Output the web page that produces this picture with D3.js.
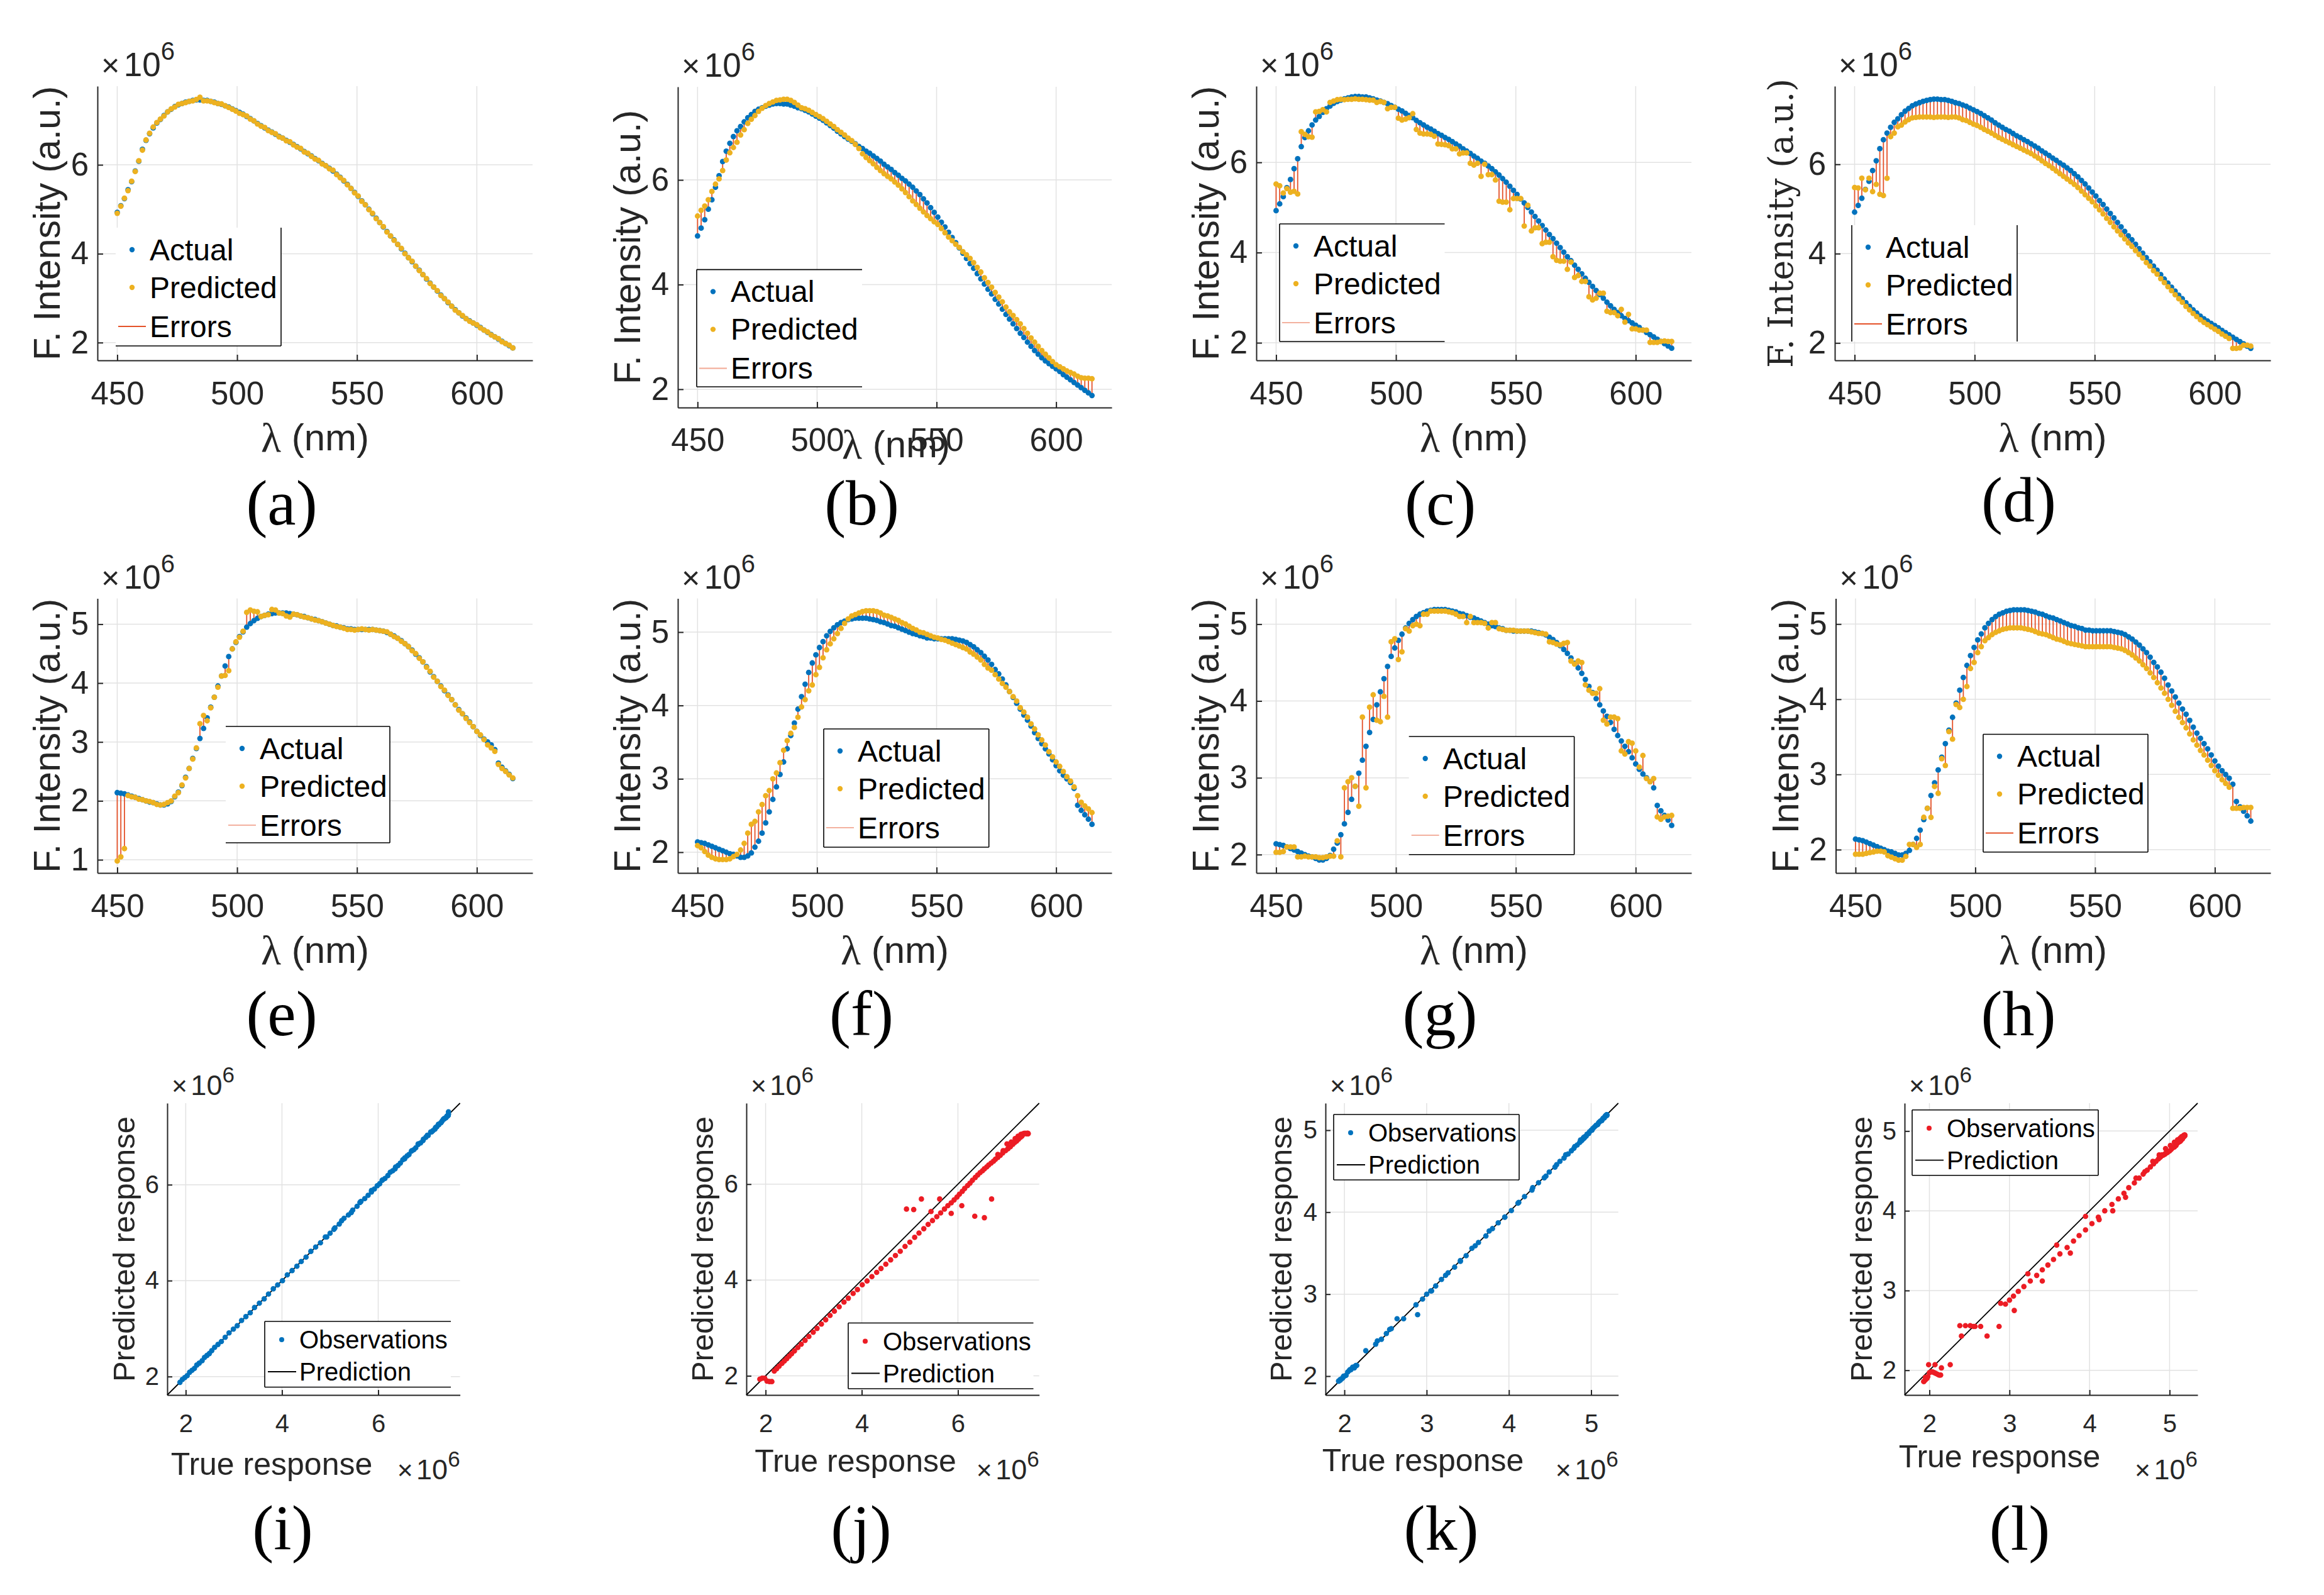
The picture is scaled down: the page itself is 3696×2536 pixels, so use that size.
<!DOCTYPE html>
<html><head><meta charset="utf-8">
<script src="https://cdn.jsdelivr.net/npm/d3@7"></script>
<style>body{margin:0;background:#fff;} svg{display:block;}</style>
</head><body>
<svg id="c" width="3696" height="2536"></svg>
<script>
// ---------------- DATA ----------------
const wavelengths = [
 450,451.5,453,454.5,456,457.5,459,460.5,462,463.5,
 465,466.5,468,469.5,471,472.5,474,475.5,477,478.5,
 480,481.5,483,484.5,486,487.5,489,490.5,492,493.5,
 495,496.5,498,499.5,501,502.5,504,505.5,507,508.5,
 510,511.5,513,514.5,516,517.5,519,520.5,522,523.5,
 525,526.5,528,529.5,531,532.5,534,535.5,537,538.5,
 540,541.5,543,544.5,546,547.5,549,550.5,552,553.5,
 555,556.5,558,559.5,561,562.5,564,565.5,567,568.5,
 570,571.5,573,574.5,576,577.5,579,580.5,582,583.5,
 585,586.5,588,589.5,591,592.5,594,595.5,597,598.5,
 600,601.5,603,604.5,606,607.5,609,610.5,612,613.5,615];

// sample 1 (panels a-d), values x1e6
const actual1 = [
 4.93,5.08,5.24,5.44,5.62,5.86,6.08,6.35,6.55,6.70,
 6.83,6.94,7.02,7.11,7.19,7.25,7.31,7.35,7.38,7.41,
 7.43,7.45,7.46,7.46,7.45,7.45,7.43,7.41,7.38,7.36,
 7.33,7.30,7.26,7.22,7.18,7.14,7.09,7.04,6.99,6.93,
 6.88,6.83,6.78,6.74,6.69,6.64,6.60,6.55,6.51,6.46,
 6.41,6.36,6.30,6.25,6.20,6.14,6.09,6.03,5.98,5.92,
 5.86,5.79,5.72,5.64,5.56,5.47,5.38,5.29,5.19,5.10,
 5.00,4.90,4.80,4.70,4.60,4.50,4.40,4.31,4.21,4.11,
 4.01,3.91,3.82,3.72,3.63,3.53,3.43,3.34,3.25,3.16,
 3.07,2.99,2.90,2.82,2.74,2.67,2.60,2.54,2.49,2.44,
 2.39,2.34,2.28,2.23,2.18,2.13,2.08,2.03,1.98,1.93,1.88];

const predA = [
 4.91,5.07,5.25,5.42,5.63,5.85,6.09,6.33,6.56,6.71,
 6.85,6.95,7.03,7.10,7.19,7.26,7.30,7.36,7.38,7.40,
 7.43,7.44,7.47,7.52,7.44,7.44,7.43,7.40,7.38,7.37,
 7.33,7.29,7.25,7.21,7.16,7.13,7.10,7.03,6.99,6.92,
 6.87,6.84,6.77,6.73,6.70,6.63,6.60,6.54,6.52,6.45,
 6.40,6.37,6.29,6.26,6.19,6.13,6.10,6.02,5.98,5.91,
 5.88,5.78,5.71,5.65,5.55,5.47,5.37,5.30,5.18,5.10,
 4.99,4.91,4.79,4.70,4.61,4.49,4.40,4.30,4.21,4.12,
 4.00,3.91,3.83,3.72,3.62,3.53,3.44,3.33,3.25,3.17,
 3.06,2.99,2.91,2.82,2.73,2.67,2.61,2.54,2.48,2.44,
 2.40,2.33,2.28,2.24,2.17,2.13,2.09,2.02,1.98,1.94,1.88];

const predB = [
 5.31,5.42,5.50,5.62,5.78,5.92,6.02,6.18,6.38,6.52,
 6.62,6.72,6.86,6.96,7.08,7.16,7.23,7.31,7.37,7.42,
 7.46,7.49,7.52,7.53,7.54,7.54,7.52,7.48,7.43,7.38,
 7.36,7.33,7.29,7.25,7.21,7.17,7.12,7.07,7.02,6.96,
 6.91,6.86,6.80,6.75,6.68,6.60,6.50,6.43,6.37,6.31,
 6.24,6.18,6.12,6.07,6.02,5.96,5.90,5.83,5.76,5.68,
 5.60,5.53,5.46,5.39,5.32,5.26,5.20,5.15,5.07,4.99,
 4.91,4.84,4.77,4.71,4.63,4.57,4.50,4.42,4.33,4.24,
 4.13,4.04,3.95,3.85,3.76,3.67,3.57,3.48,3.41,3.33,
 3.25,3.16,3.07,2.98,2.90,2.82,2.74,2.67,2.60,2.53,
 2.47,2.43,2.39,2.35,2.32,2.29,2.25,2.22,2.21,2.21,2.20];

const predC = [
 5.52,5.48,5.32,5.42,5.34,5.36,5.30,6.68,6.62,6.57,
 6.56,7.12,7.13,7.17,7.12,7.33,7.36,7.39,7.40,7.39,
 7.40,7.40,7.41,7.40,7.40,7.39,7.38,7.38,7.33,7.35,
 7.33,7.19,7.22,7.22,6.98,6.94,6.96,6.99,7.08,6.73,
 6.65,6.63,6.63,6.62,6.58,6.41,6.40,6.39,6.37,6.30,
 6.30,6.19,6.21,6.21,5.98,5.94,5.98,5.69,5.96,5.73,
 5.73,5.61,5.14,5.12,5.12,4.95,5.20,5.20,5.20,4.59,
 5.05,4.48,4.55,4.55,4.20,4.23,4.23,3.91,3.83,3.81,
 3.81,3.63,3.79,3.45,3.49,3.36,3.36,3.02,2.95,2.99,
 3.10,3.10,2.70,2.67,2.67,2.60,2.74,2.46,2.63,2.31,
 2.31,2.28,2.28,2.28,2.01,2.01,2.01,2.03,2.04,2.03,2.03];

const predD = [
 5.48,5.47,5.69,5.43,5.69,5.39,5.55,5.33,5.30,5.69,
 6.62,6.70,6.84,6.88,6.95,7.00,7.04,7.05,7.06,7.06,
 7.06,7.06,7.05,7.06,7.06,7.06,7.05,7.06,7.06,7.04,
 7.00,6.98,6.94,6.90,6.87,6.83,6.78,6.74,6.70,6.65,
 6.60,6.56,6.52,6.48,6.44,6.40,6.36,6.32,6.28,6.24,
 6.19,6.14,6.08,6.02,5.97,5.91,5.85,5.79,5.73,5.67,
 5.61,5.55,5.48,5.40,5.32,5.24,5.16,5.07,4.98,4.89,
 4.79,4.70,4.60,4.51,4.42,4.33,4.24,4.16,4.07,3.98,
 3.90,3.80,3.72,3.62,3.54,3.44,3.35,3.26,3.17,3.08,
 2.99,2.91,2.82,2.74,2.66,2.59,2.52,2.46,2.41,2.36,
 2.31,2.26,2.20,2.15,2.10,1.88,1.88,1.89,1.95,1.95,1.93];

// sample 2 (panels e-h)
const actual2 = [
 2.14,2.13,2.12,2.10,2.08,2.06,2.04,2.02,2.00,1.98,
 1.97,1.95,1.93,1.93,1.95,1.99,2.07,2.15,2.26,2.40,
 2.55,2.72,2.89,3.06,3.23,3.41,3.59,3.76,3.95,4.12,
 4.29,4.45,4.58,4.69,4.79,4.87,4.95,5.01,5.06,5.10,
 5.13,5.15,5.17,5.18,5.19,5.19,5.19,5.19,5.18,5.17,
 5.16,5.14,5.13,5.11,5.09,5.08,5.06,5.04,5.02,5.00,
 4.98,4.97,4.95,4.94,4.92,4.92,4.91,4.91,4.91,4.91,
 4.91,4.91,4.90,4.89,4.88,4.86,4.83,4.80,4.76,4.72,
 4.67,4.62,4.56,4.49,4.43,4.36,4.28,4.19,4.11,4.03,
 3.95,3.87,3.80,3.72,3.63,3.55,3.48,3.41,3.34,3.26,
 3.18,3.11,3.05,3.00,2.95,2.87,2.64,2.57,2.51,2.45,2.38];

const predE = [
 0.98,1.05,1.19,2.09,2.07,2.06,2.03,2.02,2.00,1.99,
 1.97,1.94,1.93,1.94,1.97,2.00,2.08,2.14,2.27,2.39,
 2.55,2.71,2.90,3.31,3.45,3.36,3.58,3.76,3.93,4.12,
 4.13,4.21,4.58,4.70,4.78,4.88,5.20,5.24,5.22,5.21,
 5.13,5.15,5.16,5.25,5.24,5.19,5.18,5.14,5.12,5.17,
 5.16,5.14,5.12,5.11,5.09,5.07,5.06,5.04,5.02,5.00,
 4.98,4.96,4.95,4.93,4.91,4.91,4.90,4.91,4.92,4.91,
 4.90,4.91,4.90,4.89,4.88,4.87,4.83,4.79,4.76,4.71,
 4.67,4.62,4.55,4.50,4.42,4.36,4.27,4.20,4.10,4.03,
 3.94,3.88,3.79,3.72,3.63,3.54,3.48,3.40,3.33,3.26,
 3.18,3.12,3.04,2.95,2.90,2.84,2.62,2.55,2.50,2.44,2.39];

const predF = [
 2.09,2.06,2.01,1.96,1.93,1.91,1.90,1.90,1.90,1.91,
 1.94,1.97,2.03,2.12,2.26,2.38,2.42,2.55,2.65,2.77,
 2.84,3.00,3.08,3.22,3.39,3.52,3.62,3.70,3.84,3.98,
 4.08,4.20,4.28,4.42,4.52,4.65,4.76,4.84,4.91,4.98,
 5.05,5.12,5.18,5.22,5.24,5.26,5.28,5.29,5.29,5.29,
 5.28,5.26,5.23,5.22,5.20,5.18,5.16,5.13,5.11,5.08,
 5.05,5.03,5.00,4.99,4.97,4.95,4.93,4.92,4.90,4.89,
 4.87,4.85,4.83,4.81,4.79,4.77,4.73,4.70,4.66,4.62,
 4.56,4.51,4.48,4.42,4.36,4.30,4.25,4.19,4.12,4.06,
 3.97,3.91,3.84,3.75,3.68,3.60,3.53,3.46,3.37,3.30,
 3.23,3.17,3.10,3.03,2.97,2.89,2.77,2.68,2.63,2.59,2.54];

const predG = [
 2.03,2.03,2.04,2.10,2.10,2.10,1.97,1.97,1.98,1.97,
 1.97,1.97,1.96,1.96,1.97,1.98,1.98,2.18,1.97,2.87,
 2.95,3.00,2.89,2.63,3.79,2.87,3.92,4.08,3.75,3.73,
 4.06,3.79,4.77,4.81,4.54,4.64,4.94,4.91,4.98,5.00,
 4.98,5.13,5.13,5.17,5.17,5.17,5.17,5.17,5.16,5.15,
 5.13,5.10,5.10,5.02,5.10,5.02,5.02,5.02,5.01,4.95,
 5.02,5.02,4.94,4.93,4.92,4.92,4.92,4.91,4.91,4.91,
 4.91,4.90,4.89,4.88,4.88,4.87,4.77,4.76,4.74,4.73,
 4.75,4.76,4.52,4.48,4.52,4.50,4.21,4.14,4.10,4.10,
 4.16,3.75,3.70,3.79,3.79,3.77,3.35,3.31,3.47,3.45,
 3.35,3.14,3.29,2.99,2.95,2.99,2.49,2.46,2.49,2.50,2.51];

const predH = [
 1.94,1.94,1.94,1.95,1.96,1.97,1.98,1.98,1.97,1.92,
 1.90,1.88,1.86,1.86,1.91,2.07,2.07,2.03,2.07,2.43,
 2.55,2.43,2.84,2.75,3.21,3.12,3.57,3.47,3.93,3.89,
 4.00,4.17,4.41,4.49,4.62,4.70,4.78,4.82,4.86,4.89,
 4.91,4.93,4.94,4.95,4.95,4.95,4.95,4.94,4.93,4.92,
 4.90,4.88,4.87,4.86,4.84,4.82,4.80,4.79,4.77,4.75,
 4.74,4.73,4.72,4.71,4.70,4.70,4.70,4.70,4.70,4.70,
 4.70,4.70,4.69,4.68,4.67,4.65,4.62,4.59,4.55,4.51,
 4.46,4.41,4.35,4.29,4.22,4.15,4.08,4.00,3.92,3.84,
 3.76,3.69,3.62,3.54,3.46,3.39,3.32,3.26,3.19,3.12,
 3.05,2.99,2.93,2.88,2.83,2.55,2.55,2.55,2.56,2.56,2.56];

// panel (k): predictions of another model for sample 2
const predK = [
 2.13,2.12,2.10,2.11,2.08,2.07,2.05,2.01,2.00,1.98,
 1.97,1.96,1.94,1.94,1.95,2.00,2.08,2.13,2.31,2.43,
 2.57,2.70,2.75,3.04,3.23,3.40,3.59,3.77,3.94,4.12,
 4.30,4.44,4.58,4.70,4.78,4.88,4.95,5.00,5.06,5.10,
 5.12,5.15,5.17,5.18,5.18,5.19,5.19,5.18,5.18,5.17,
 5.15,5.14,5.12,5.11,5.09,5.07,5.06,5.04,5.02,5.00,
 4.98,4.96,4.95,4.93,4.92,4.91,4.91,4.90,4.91,4.91,
 4.90,4.91,4.90,4.88,4.87,4.85,4.82,4.80,4.75,4.71,
 4.66,4.62,4.55,4.49,4.42,4.36,4.27,4.19,4.11,4.02,
 3.94,3.87,3.80,3.71,3.63,3.56,3.47,3.41,3.33,3.26,
 3.18,3.10,3.04,3.00,2.94,2.87,2.70,2.58,2.52,2.45,2.39];

const spectraXTicks = [450, 500, 550, 600];
const legendSpectra = ["Actual", "Predicted", "Errors"];
const legendScatter = ["Observations", "Prediction"];
const panelLetters = ["(a)","(b)","(c)","(d)","(e)","(f)","(g)","(h)","(i)","(j)","(k)","(l)"];

// ---------------- LAYOUT / STYLE ----------------
const SANS = "'Liberation Sans', Arial, Helvetica, sans-serif";
const SERIF = "'Liberation Serif', 'Times New Roman', serif";
const C_ACT = "#0072BD", C_PRED = "#EDB120", C_ERR = "#E4522A", C_RED = "#EC1C24";
const AX = "#262626", GRID = "#e2e2e2";
const xDomain = [441.75, 623.25];

const spectra = [
 {actual:actual1, pred:predA, box:[155,137,847,573],  ylim:[1.60,7.77], yt:[2,4,6], leg:[184,362,447,550], sides:"rb", errA:1, xlab:[501,695], ylabX:75, letter:[448,810]},
 {actual:actual1, pred:predB, box:[1078,138,1768,648], ylim:[1.65,7.78], yt:[2,4,6], leg:[1108,428.6,1371,615], sides:"tlb", errA:0.45, xlab:[1425,706], ylabX:997.5, letter:[1370.6,810], pad:32.5},
 {actual:actual1, pred:predC, box:[1998,137,2690,573], ylim:[1.61,7.69], yt:[2,4,6], leg:[2035,356,2297.5,543], sides:"tlb", errA:0.45, xlab:[2344,695], ylabX:1917.5, letter:[2290.6,810]},
 {actual:actual1, pred:predD, box:[2918,137,3611,573], ylim:[1.61,7.75], yt:[2,4,6], leg:[2945,358,3208,543], sides:"lr", errA:1, xlab:[3264.5,695], ylabX:2832, serif:true, letter:[3210.5,805]},
 {actual:actual2, pred:predE, box:[155,951.6,847,1388], ylim:[0.776,5.436], yt:[1,2,3,4,5], leg:[359,1155,620,1340], sides:"trb", errA:0.45, xlab:[501,1510], ylabX:75, letter:[448,1622]},
 {actual:actual2, pred:predF, box:[1078,951.6,1768,1388], ylim:[1.717,5.458], yt:[2,3,4,5], leg:[1310,1159,1572.7,1347], sides:"tlrb", errA:0.45, xlab:[1423,1510], ylabX:997.5, letter:[1370,1622]},
 {actual:actual2, pred:predG, box:[1998,951.6,2690,1388], ylim:[1.761,5.334], yt:[2,3,4,5], leg:[2240.7,1171,2503.6,1358.8], sides:"trb", errA:0.45, xlab:[2344,1510], ylabX:1917.5, letter:[2290,1622]},
 {actual:actual2, pred:predH, box:[2919.5,951.6,3611,1388], ylim:[1.69,5.34], yt:[2,3,4,5], leg:[3154,1167.5,3416,1354.7], sides:"tlrb", errA:1, xlab:[3265,1510], ylabX:2840, letter:[3210,1622]}
];

const scatters = [
 {tru:actual1, pred:predA, color:C_ACT, box:[266,1754,731.6,2218],  lim:[1.616,7.70], ticks:[2,4,6], leg:[421,2101,717,2205.5], sides:"tlb", xlab:[432,2328], ylabX:197, letter:[449.5,2440]},
 {tru:actual1, pred:predD, color:C_RED, box:[1187,1754,1652.7,2218], lim:[1.60,7.69], ticks:[2,4,6], leg:[1349,2103.5,1643.5,2208], sides:"tlb", xlab:[1360.5,2323], ylabX:1117, letter:[1369.5,2440]},
 {tru:actual2, pred:predK, color:C_ACT, box:[2108,1754,2573.7,2218], lim:[1.77,5.33], ticks:[2,3,4,5], leg:[2121,1772,2416,1876], sides:"tlrb", xlab:[2263,2322], ylabX:2037, letter:[2292,2440]},
 {tru:actual2, pred:predH, color:C_RED, box:[3029,1754,3495,2218], lim:[1.69,5.35], ticks:[2,3,4,5], leg:[3041,1764.7,3337,1868.8], sides:"tlrb", xlab:[3180,2316], ylabX:2959.5, letter:[3212,2440]}
];

const svg = d3.select("#c");
svg.append("rect").attr("width",3696).attr("height",2536).attr("fill","#fff");

function styleAxis(sel, fs) {
  sel.attr("font-family", SANS).attr("font-size", fs);
  sel.select(".domain").attr("stroke", AX).attr("stroke-width", 2);
  sel.selectAll(".tick line").attr("stroke", AX).attr("stroke-width", 2);
  sel.selectAll(".tick text").attr("fill", AX);
}
function grid(g, xs, ys, x, y, L, T, R, B) {
  g.append("g").selectAll("line").data(xs).join("line")
    .attr("x1", d => x(d)).attr("x2", d => x(d)).attr("y1", T).attr("y2", B)
    .attr("stroke", GRID).attr("stroke-width", 1.5);
  g.append("g").selectAll("line").data(ys).join("line")
    .attr("y1", d => y(d)).attr("y2", d => y(d)).attr("x1", L).attr("x2", R)
    .attr("stroke", GRID).attr("stroke-width", 1.5);
}
function exponent(g, xPos, yBase, fs, fsSup, shift, anchor) {
  const t = g.append("text").attr("x", xPos).attr("y", yBase)
    .attr("font-family", SANS).attr("font-size", fs).attr("fill", AX)
    .attr("text-anchor", anchor || "start");
  t.append("tspan").attr("font-size", fs * 0.95).text("\u00D7");
  t.append("tspan").attr("dx", fs * 0.12).text("10");
  t.append("tspan").attr("font-size", fsSup).attr("dy", -shift).text("6");
}
function legendBox(g, leg, sides) {
  const [l,t,r,b] = leg;
  g.append("rect").attr("x", l).attr("y", t).attr("width", r-l).attr("height", b-t).attr("fill", "#fff");
  const segs = {t:[l,t,r,t], b:[l,b,r,b], l:[l,t,l,b], r:[r,t,r,b]};
  for (const s of sides) {
    const [x1,y1,x2,y2] = segs[s];
    g.append("line").attr("x1",x1).attr("y1",y1).attr("x2",x2).attr("y2",y2)
      .attr("stroke","#000").attr("stroke-width",1.6);
  }
}
function letter(pos, txt) {
  svg.append("text").attr("x", pos[0]).attr("y", pos[1] + 24)
    .attr("text-anchor","middle").attr("font-family", SERIF).attr("font-size", 102)
    .attr("fill","#000").text(txt);
}

// ---------------- SPECTRA PANELS ----------------
spectra.forEach((p, k) => {
  const [L,T,R,B] = p.box;
  const x = d3.scaleLinear().domain(xDomain).range([L,R]);
  const y = d3.scaleLinear().domain(p.ylim).range([B,T]);
  const g = svg.append("g");
  grid(g, spectraXTicks, p.yt, x, y, L, T, R, B);

  const xa = g.append("g").attr("transform", `translate(0,${B})`)
    .call(d3.axisBottom(x).tickValues(spectraXTicks).tickSizeInner(-9).tickSizeOuter(0)
      .tickPadding(p.pad || 33.5).tickFormat(d3.format("d")));
  styleAxis(xa, 51);
  const ya = g.append("g").attr("transform", `translate(${L},0)`)
    .call(d3.axisLeft(y).tickValues(p.yt).tickSizeInner(-9).tickSizeOuter(0)
      .tickPadding(14).tickFormat(d3.format("d")));
  styleAxis(ya, 51);

  // error stems
  g.append("g").selectAll("line").data(wavelengths).join("line")
    .attr("x1", d => x(d)).attr("x2", d => x(d))
    .attr("y1", (d,i) => y(p.actual[i])).attr("y2", (d,i) => y(p.pred[i]))
    .attr("stroke", C_ERR).attr("stroke-width", 1.8);
  g.append("g").selectAll("circle").data(wavelengths).join("circle")
    .attr("cx", d => x(d)).attr("cy", (d,i) => y(p.actual[i])).attr("r", 4.4).attr("fill", C_ACT);
  g.append("g").selectAll("circle").data(wavelengths).join("circle")
    .attr("cx", d => x(d)).attr("cy", (d,i) => y(p.pred[i])).attr("r", 4.4).attr("fill", C_PRED);

  // legend
  legendBox(g, p.leg, p.sides);
  const [ll, lt] = p.leg;
  const offs = [35, 95, 157];
  legendSpectra.forEach((name, j) => {
    const cy = lt + offs[j];
    if (j < 2) {
      g.append("circle").attr("cx", ll + 26).attr("cy", cy).attr("r", 4.2).attr("fill", j === 0 ? C_ACT : C_PRED);
    } else {
      g.append("line").attr("x1", ll + 4).attr("x2", ll + 48).attr("y1", cy).attr("y2", cy)
        .attr("stroke", C_ERR).attr("stroke-width", 2.2).attr("stroke-opacity", p.errA);
    }
    g.append("text").attr("x", ll + 54).attr("y", cy).attr("dominant-baseline", "central")
      .attr("font-family", SANS).attr("font-size", 48).attr("fill", "#000").text(name);
  });

  // exponent
  exponent(g, L + 6, T - 16, 53, 40, 26);

  // x label
  const xl = g.append("text").attr("x", p.xlab[0]).attr("y", p.xlab[1]).attr("dominant-baseline","central")
    .attr("text-anchor","middle").attr("font-family", SANS).attr("font-size", 60).attr("fill", AX);
  xl.append("tspan").attr("font-family", SERIF).attr("font-size", 66).text("\u03BB");
  xl.append("tspan").text(" (nm)");

  // y label
  const cyMid = (T + B) / 2;
  const yl = g.append("text").attr("transform", `translate(${p.ylabX},${cyMid}) rotate(-90)`)
    .attr("text-anchor","middle").attr("dominant-baseline","central").attr("fill", AX)
    .text("F. Intensity (a.u.)");
  if (p.serif) {
    yl.attr("font-family", "'DejaVu Serif', serif").attr("font-size", 54)
      .attr("textLength", 460).attr("lengthAdjust", "spacingAndGlyphs");
  } else {
    yl.attr("font-family", SANS).attr("font-size", 59);
  }
  letter(p.letter, panelLetters[k]);
});

// ---------------- SCATTER PANELS ----------------
scatters.forEach((p, k) => {
  const [L,T,R,B] = p.box;
  const x = d3.scaleLinear().domain(p.lim).range([L,R]);
  const y = d3.scaleLinear().domain(p.lim).range([B,T]);
  const g = svg.append("g");
  grid(g, p.ticks, p.ticks, x, y, L, T, R, B);

  const xa = g.append("g").attr("transform", `translate(0,${B})`)
    .call(d3.axisBottom(x).tickValues(p.ticks).tickSizeInner(-8).tickSizeOuter(0)
      .tickPadding(31).tickFormat(d3.format("d")));
  styleAxis(xa, 40);
  const ya = g.append("g").attr("transform", `translate(${L},0)`)
    .call(d3.axisLeft(y).tickValues(p.ticks).tickSizeInner(-8).tickSizeOuter(0)
      .tickPadding(13).tickFormat(d3.format("d")));
  styleAxis(ya, 40);

  g.append("line").attr("x1", x(p.lim[0])).attr("y1", y(p.lim[0]))
    .attr("x2", x(p.lim[1])).attr("y2", y(p.lim[1]))
    .attr("stroke", "#000").attr("stroke-width", 1.8);

  g.append("g").selectAll("circle").data(p.tru).join("circle")
    .attr("cx", d => x(d)).attr("cy", (d,i) => y(p.pred[i])).attr("r", 4.3).attr("fill", p.color);

  legendBox(g, p.leg, p.sides);
  const [ll, lt] = p.leg;
  const offs = [29, 80];
  legendScatter.forEach((name, j) => {
    const cy = lt + offs[j];
    if (j === 0) {
      g.append("circle").attr("cx", ll + 27).attr("cy", cy).attr("r", 4).attr("fill", p.color);
    } else {
      g.append("line").attr("x1", ll + 5).attr("x2", ll + 50).attr("y1", cy).attr("y2", cy)
        .attr("stroke", "#000").attr("stroke-width", 1.8);
    }
    g.append("text").attr("x", ll + 55).attr("y", cy).attr("dominant-baseline","central")
      .attr("font-family", SANS).attr("font-size", 40).attr("fill", "#000").text(name);
  });

  exponent(g, L + 7, T - 13, 45, 35, 20);
  exponent(g, R, 2352, 45, 35, 20, "end");

  g.append("text").attr("x", p.xlab[0]).attr("y", p.xlab[1]).attr("dominant-baseline","central")
    .attr("text-anchor","middle").attr("font-family", SANS).attr("font-size", 50).attr("fill", AX)
    .text("True response");
  g.append("text").attr("transform", `translate(${p.ylabX},${(T+B)/2}) rotate(-90)`)
    .attr("text-anchor","middle").attr("dominant-baseline","central")
    .attr("font-family", SANS).attr("font-size", 49).attr("fill", AX).text("Predicted response");

  letter(p.letter, panelLetters[k + 8]);
});
</script>
</body></html>
